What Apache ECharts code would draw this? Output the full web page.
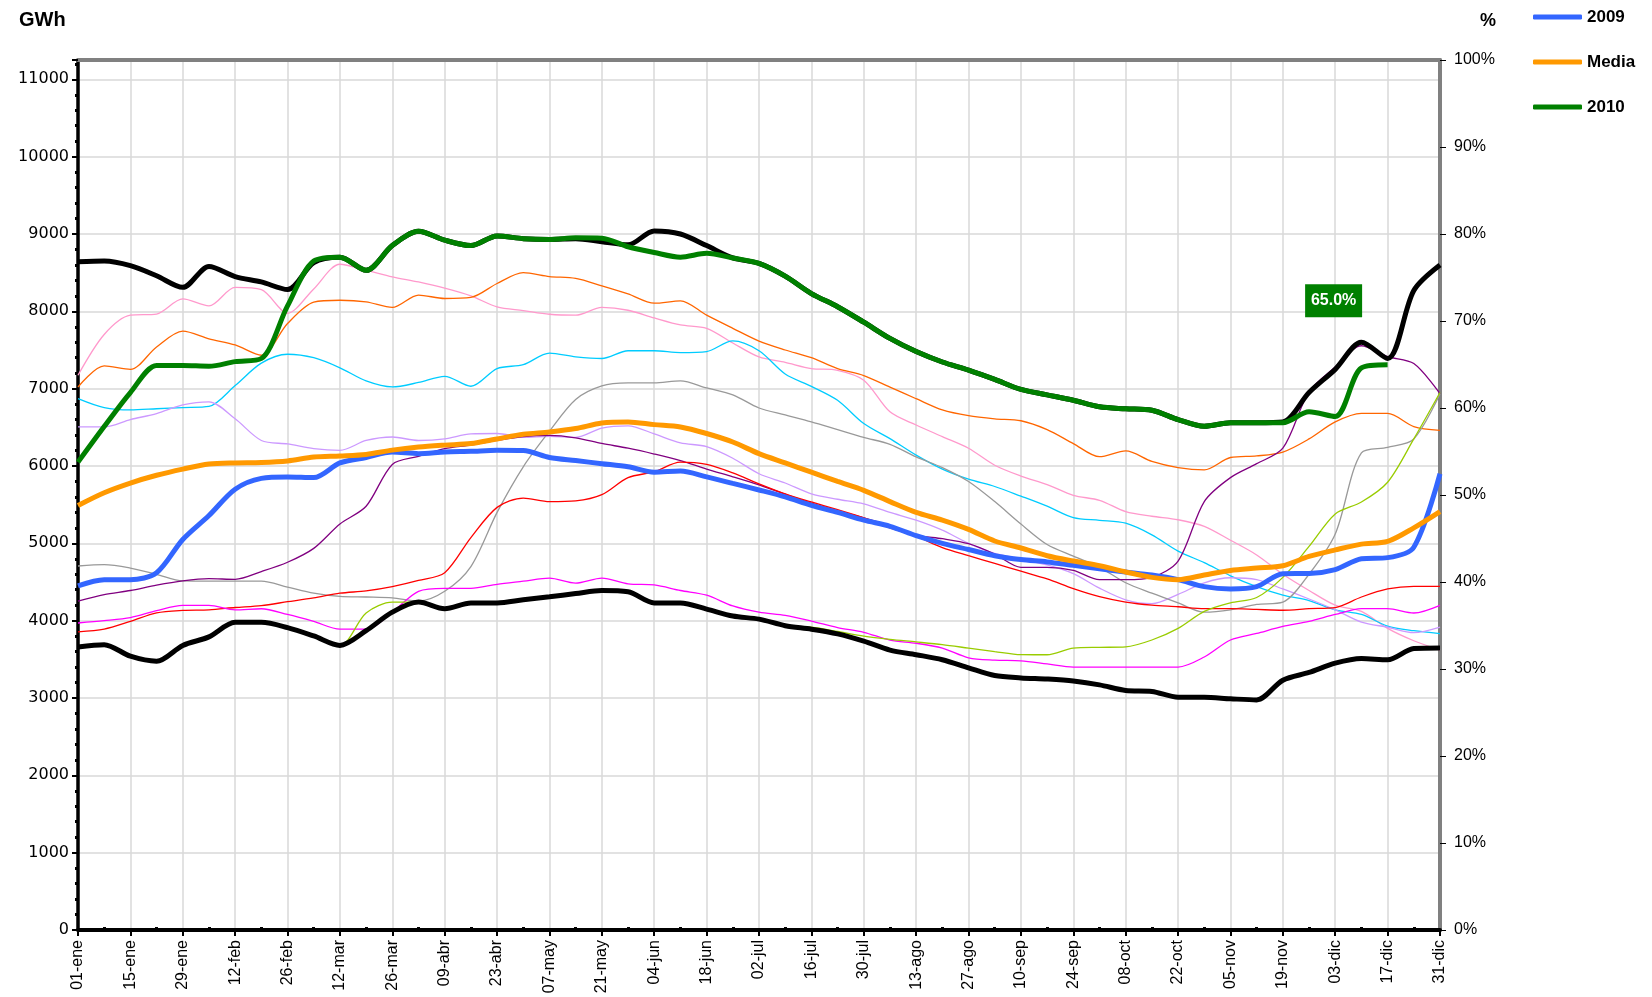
<!DOCTYPE html>
<html>
<head>
<meta charset="utf-8">
<title>Reserva hidráulica</title>
<script src="https://cdn.jsdelivr.net/npm/echarts@6/dist/echarts.min.js"></script>
<style>
    html, body { margin: 0; padding: 0; background: #fff; }
    #reserva { width: 1652px; height: 997px; }
</style>
</head>
<body>
<div id="reserva"></div>
<script>
// fechas semanales, se rotula una de cada dos
var fechas = ['01-ene', '08-ene', '15-ene', '22-ene', '29-ene', '05-feb', '12-feb', '19-feb', '26-feb',
    '05-mar', '12-mar', '19-mar', '26-mar', '02-abr', '09-abr', '16-abr', '23-abr', '30-abr',
    '07-may', '14-may', '21-may', '28-may', '04-jun', '11-jun', '18-jun', '25-jun',
    '02-jul', '09-jul', '16-jul', '23-jul', '30-jul', '06-ago', '13-ago', '20-ago', '27-ago',
    '03-sep', '10-sep', '17-sep', '24-sep', '01-oct', '08-oct', '15-oct', '22-oct', '29-oct',
    '05-nov', '12-nov', '19-nov', '26-nov', '03-dic', '10-dic', '17-dic', '24-dic', '31-dic'];

var CAPACIDAD = 11250; // GWh que corresponden al 100%

var anio2010 = [6050, 6510, 6950, 7300, 7300, 7290, 7350, 7390, 8070, 8650, 8700, 8530, 8850, 9035, 8920, 8850, 8975, 8940,
    8930, 8950, 8945, 8835, 8760, 8700, 8750, 8690, 8620, 8455, 8230, 8060, 7860, 7650, 7480, 7345, 7240, 7120,
    6990, 6920, 6850, 6765, 6740, 6720, 6600, 6514, 6560, 6560, 6560, 6700, 6640, 7270, 7310];
var anio2009 = [4450, 4530, 4530, 4620, 5050, 5360, 5700, 5840, 5858, 5850, 6040, 6110, 6180, 6160, 6181, 6190, 6203, 6200,
    6110, 6070, 6030, 5990, 5920, 5935, 5860, 5775, 5690, 5600, 5490, 5400, 5300, 5220, 5100, 5000, 4920, 4840,
    4790, 4760, 4715, 4670, 4630, 4590, 4530, 4440, 4410, 4440, 4608, 4610, 4660, 4800, 4815, 4950, 5900];
var media = [5490, 5655, 5780, 5880, 5960, 6025, 6040, 6045, 6065, 6115, 6130, 6150, 6205, 6245, 6270, 6290, 6350, 6410,
    6440, 6484, 6556, 6570, 6535, 6505, 6420, 6310, 6160, 6040, 5920, 5800, 5685, 5540, 5400, 5300, 5180, 5030,
    4940, 4840, 4771, 4710, 4630, 4560, 4530, 4590, 4650, 4680, 4710, 4830, 4915, 4990, 5025, 5200, 5410];
var maximo = [8640, 8650, 8590, 8460, 8310, 8580, 8450, 8380, 8282, 8630, 8700, 8530, 8850, 9035, 8920, 8850, 8975, 8940,
    8930, 8940, 8900, 8860, 9040, 9000, 8850, 8690, 8620, 8455, 8230, 8060, 7860, 7650, 7480, 7345, 7240, 7120,
    6990, 6920, 6850, 6765, 6740, 6720, 6600, 6514, 6560, 6560, 6570, 6950, 7250, 7600, 7390, 8270, 8600];
var minimo = [3660, 3690, 3540, 3475, 3680, 3790, 3978, 3978, 3910, 3802, 3680, 3870, 4110, 4240, 4154, 4229, 4229, 4270,
    4308, 4350, 4390, 4374, 4229, 4230, 4150, 4060, 4020, 3935, 3890, 3830, 3736, 3620, 3560, 3495, 3390, 3290,
    3260, 3245, 3220, 3170, 3097, 3085, 3010, 3009, 2990, 2975, 3230, 3330, 3450, 3510, 3495, 3640, 3648];

// resto de años (líneas finas)
var rosa = [7173, 7700, 7950, 7965, 8160, 8070, 8310, 8280, 7975, 8290, 8609, 8532, 8446, 8380, 8300, 8200, 8057, 8010,
    7962, 7950, 8050, 8014, 7915, 7825, 7780, 7590, 7410, 7340, 7260, 7238, 7110, 6700, 6530, 6380, 6230, 6010,
    5870, 5760, 5621, 5556, 5410, 5350, 5305, 5220, 5040, 4850, 4600, 4390, 4200, 4120, 3900, 3740, 3620];
var naranja = [7022, 7294, 7250, 7540, 7745, 7645, 7565, 7432, 7842, 8120, 8143, 8122, 8050, 8210, 8166, 8180, 8360, 8500,
    8450, 8425, 8330, 8225, 8105, 8135, 7950, 7780, 7615, 7500, 7400, 7260, 7170, 7020, 6870, 6725, 6650, 6610,
    6585, 6470, 6290, 6120, 6195, 6060, 5980, 5950, 6110, 6130, 6180, 6350, 6570, 6680, 6680, 6510, 6460];
var celeste = [6872, 6755, 6725, 6740, 6755, 6770, 7040, 7330, 7445, 7400, 7270, 7100, 7022, 7080, 7160, 7031, 7260, 7310,
    7460, 7412, 7390, 7490, 7490, 7467, 7480, 7617, 7490, 7190, 7030, 6850, 6549, 6354, 6140, 5960, 5830, 5735,
    5610, 5480, 5332, 5298, 5260, 5110, 4900, 4750, 4580, 4440, 4330, 4260, 4140, 4080, 3930, 3870, 3832];
var lila = [6505, 6505, 6600, 6678, 6790, 6830, 6610, 6330, 6285, 6225, 6203, 6330, 6375, 6330, 6350, 6415, 6420, 6370,
    6385, 6370, 6490, 6520, 6415, 6300, 6250, 6100, 5900, 5780, 5640, 5570, 5510, 5400, 5300, 5170, 5000, 4870,
    4800, 4720, 4608, 4420, 4270, 4220, 4340, 4490, 4555, 4530, 4410, 4280, 4140, 3982, 3915, 3845, 3917];
var gris = [4707, 4724, 4680, 4600, 4515, 4512, 4512, 4512, 4435, 4357, 4314, 4306, 4295, 4255, 4380, 4700, 5400, 5990,
    6450, 6860, 7035, 7074, 7075, 7100, 7010, 6920, 6750, 6660, 6570, 6470, 6370, 6280, 6117, 5980, 5800, 5540,
    5250, 4985, 4835, 4690, 4490, 4355, 4230, 4110, 4140, 4210, 4240, 4600, 5120, 6170, 6240, 6350, 6936];
var morado = [4254, 4336, 4390, 4460, 4515, 4543, 4535, 4635, 4755, 4935, 5250, 5480, 6020, 6125, 6225, 6270, 6330, 6380,
    6397, 6365, 6292, 6230, 6155, 6070, 5960, 5860, 5755, 5635, 5520, 5420, 5330, 5230, 5105, 5060, 4995, 4860,
    4690, 4690, 4650, 4530, 4530, 4560, 4770, 5540, 5850, 6030, 6230, 6960, 7280, 7555, 7415, 7325, 6936];
var rojo = [3855, 3890, 3990, 4100, 4132, 4140, 4170, 4195, 4245, 4295, 4355, 4385, 4440, 4520, 4620, 5075, 5465, 5585,
    5540, 5550, 5630, 5850, 5925, 6050, 6020, 5910, 5770, 5640, 5535, 5435, 5330, 5200, 5090, 4945, 4840, 4740,
    4640, 4540, 4414, 4310, 4240, 4200, 4180, 4155, 4155, 4145, 4135, 4155, 4170, 4306, 4410, 4444, 4444];
var fucsia = [3970, 4000, 4040, 4130, 4198, 4198, 4140, 4154, 4080, 3990, 3890, 3890, 4110, 4380, 4418, 4418, 4470, 4510,
    4550, 4485, 4550, 4475, 4462, 4390, 4330, 4190, 4110, 4068, 3995, 3910, 3850, 3748, 3708, 3645, 3520, 3490,
    3480, 3440, 3400, 3400, 3400, 3400, 3400, 3530, 3750, 3835, 3925, 3990, 4080, 4155, 4155, 4099, 4198];
var pistacho = [3660, 3690, 3540, 3475, 3680, 3790, 3978, 3978, 3910, 3802, 3680, 4100, 4240, 4240, 4154, 4229, 4229, 4270,
    4308, 4350, 4390, 4374, 4229, 4230, 4150, 4060, 4020, 3935, 3915, 3860, 3800, 3758, 3725, 3690, 3645, 3600,
    3560, 3559, 3645, 3655, 3661, 3750, 3900, 4120, 4230, 4300, 4560, 4960, 5380, 5534, 5790, 6350, 6950];

var fuente = 'Liberation Sans, Arial, sans-serif';
var myChart = echarts.init(document.getElementById('reserva'));

function lineaFina(nombre, color, datos) {
    return {
        name: nombre,
        type: 'line',
        data: datos,
        smooth: 0.3,
        symbol: 'none',
        silent: true,
        z: 2,
        itemStyle: { color: color },
        lineStyle: { color: color, width: 1.3 }
    };
}

function lineaGruesa(nombre, color, datos, z) {
    return {
        name: nombre,
        type: 'line',
        data: datos,
        smooth: 0.3,
        symbol: 'none',
        silent: true,
        z: z,
        itemStyle: { color: color },
        lineStyle: { color: color, width: 5 }
    };
}

var ultimo = anio2010.length - 1;
var serie2010 = lineaGruesa('2010', '#008000', anio2010, 6);
serie2010.markPoint = {
    silent: true,
    symbol: 'rect',
    symbolSize: [57, 33],
    symbolOffset: [-54, -64],
    itemStyle: { color: '#008000' },
    label: {
        show: true,
        position: 'inside',
        color: '#fff',
        fontWeight: 'bold',
        fontSize: 16,
        fontFamily: fuente,
        formatter: function (p) {
            return (p.value / CAPACIDAD * 100).toFixed(1) + '%';
        }
    },
    data: [{ coord: [ultimo, anio2010[ultimo]], value: anio2010[ultimo] }]
};

option = {
    animation: false,
    backgroundColor: '#fff',
    title: [
        { text: 'GWh', left: 14, top: 5, textStyle: { fontSize: 20, fontWeight: 'bold', color: '#000', fontFamily: fuente } },
        { text: '%', left: 1475, top: 7, textStyle: { fontSize: 18, fontWeight: 'bold', color: '#000', fontFamily: fuente } }
    ],
    legend: {
        orient: 'vertical',
        left: 1533,
        top: 7,
        padding: 0,
        icon: 'roundRect',
        itemWidth: 49,
        itemHeight: 5,
        itemGap: 25,
        itemTextGap: 5,
        data: ['2009', 'Media', '2010'],
        textStyle: { fontSize: 17, fontWeight: 'bold', color: '#000', fontFamily: fuente, lineHeight: 20 }
    },
    grid: {
        left: 78,
        right: 212,
        top: 60,
        bottom: 67
    },
    xAxis: [{
        type: 'category',
        data: fechas,
        boundaryGap: false,
        axisLine: { lineStyle: { color: '#000', width: 4 } },
        axisTick: { interval: 1, length: 6, lineStyle: { color: '#000', width: 2 } },
        axisLabel: { interval: 1, rotate: 90, margin: 10, fontSize: 16, color: '#000', fontFamily: fuente },
        splitLine: { show: true, interval: 1, lineStyle: { color: '#d9d9d9', width: 1.5 } }
    }, {
        // puntitos de las semanas sin rótulo
        type: 'category',
        data: fechas,
        boundaryGap: false,
        position: 'bottom',
        axisLine: { show: false },
        axisTick: {
            interval: function (i) { return i % 2 === 1; },
            inside: true, length: 3, lineStyle: { color: '#000', width: 3 }
        },
        axisLabel: { show: false },
        splitLine: { show: false }
    }, {
        // borde superior gris
        type: 'category',
        data: fechas,
        boundaryGap: false,
        position: 'top',
        axisLine: { lineStyle: { color: '#808080', width: 4 } },
        axisTick: { show: false },
        axisLabel: { show: false },
        splitLine: { show: false }
    }],
    yAxis: [{
        type: 'value',
        min: 0,
        max: CAPACIDAD,
        interval: 1000,
        axisLine: { show: true, lineStyle: { color: '#000', width: 3.5 } },
        axisTick: { show: true, length: 6, lineStyle: { color: '#000', width: 2 } },
        minorTick: { show: true, splitNumber: 5, length: 3, lineStyle: { color: '#000', width: 3 } },
        axisLabel: {
            margin: 9, fontSize: 16, color: '#000', fontFamily: 'DejaVu Sans, sans-serif',
            formatter: function (v) { return v % 1000 === 0 ? v : ''; }
        },
        splitLine: { lineStyle: { color: '#d9d9d9', width: 1.5 } }
    }, {
        type: 'value',
        min: 0,
        max: 100,
        interval: 10,
        position: 'right',
        axisLine: { show: true, lineStyle: { color: '#808080', width: 4 } },
        axisTick: { show: true, length: 6, lineStyle: { color: '#000', width: 1 } },
        axisLabel: { margin: 14, fontSize: 16, color: '#000', fontFamily: fuente, formatter: '{value}%' },
        splitLine: { show: false }
    }],
    series: [
        lineaFina('rosa', '#FF99CC', rosa),
        lineaFina('naranja', '#FF6600', naranja),
        lineaFina('celeste', '#00CCFF', celeste),
        lineaFina('lila', '#CC99FF', lila),
        lineaFina('gris', '#999999', gris),
        lineaFina('morado', '#800080', morado),
        lineaFina('rojo', '#FF0000', rojo),
        lineaFina('fucsia', '#FF00FF', fucsia),
        lineaFina('pistacho', '#99CC00', pistacho),
        lineaGruesa('Máximo', '#000000', maximo, 3),
        lineaGruesa('Mínimo', '#000000', minimo, 3),
        lineaGruesa('2009', '#3366FF', anio2009, 4),
        lineaGruesa('Media', '#FF9900', media, 5),
        serie2010
    ]
};

myChart.setOption(option);
</script>
</body>
</html>
